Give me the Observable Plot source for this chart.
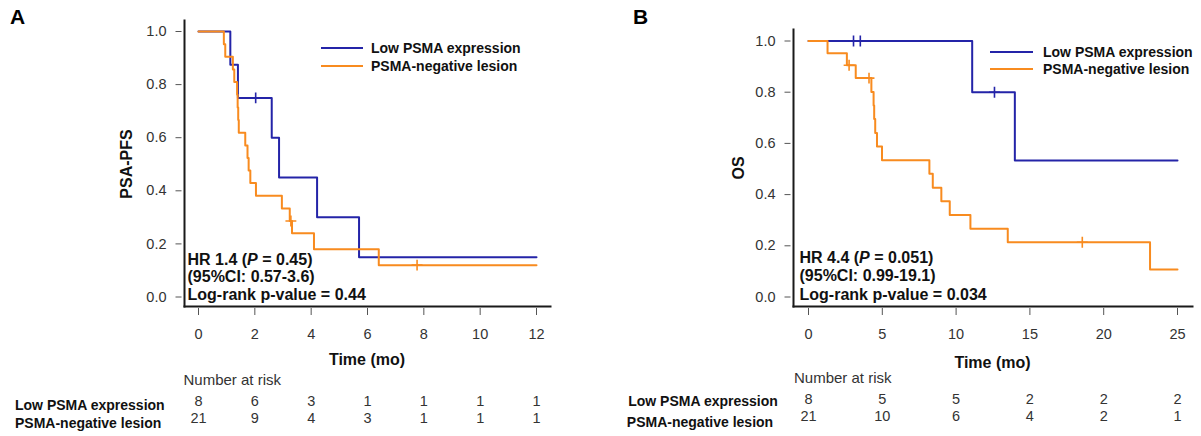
<!DOCTYPE html>
<html><head><meta charset="utf-8">
<script src="https://cdn.jsdelivr.net/npm/d3@7"></script>
<script src="https://cdn.jsdelivr.net/npm/@observablehq/plot@0.6"></script>
<style>
body{margin:0;background:#fff;font-family:"Liberation Sans",Arial,sans-serif;}
#wrap{position:relative;width:1201px;height:436px;overflow:hidden;background:#fff;}
.abs{position:absolute;white-space:nowrap;}
</style></head><body><div id="wrap"></div>
<script>
// ---- data ----
const groups = ["Low PSMA expression", "PSMA-negative lesion"];
const colors = ["#2424a8", "#f88b1f"];
const yTicks = [0, 0.2, 0.4, 0.6, 0.8, 1.0];

// Panel A: PSA-PFS
const xTicksA = [0, 2, 4, 6, 8, 10, 12];
const pfsLowTime = [0, 1.13, 1.40, 2.60, 2.86, 4.21, 5.70, 12];
const pfsLowSurv = [1, 0.875, 0.75, 0.60, 0.45, 0.30, 0.15, 0.15];
const pfsLowCensor = [2.03];
const pfsNegTime = [0, 0.90, 0.95, 1.22, 1.27, 1.37, 1.39, 1.41, 1.43, 1.66, 1.74, 1.78, 1.84, 2.04, 2.96, 3.24, 3.32, 4.10, 6.40, 12];
const pfsNegSurv = [1, 0.952, 0.905, 0.857, 0.810, 0.762, 0.714, 0.667, 0.619, 0.571, 0.524, 0.476, 0.429, 0.381, 0.333, 0.286, 0.24, 0.18, 0.12, 0.12];
const pfsNegCensor = [3.28, 7.76];
const riskLowA = [8, 6, 3, 1, 1, 1, 1];
const riskNegA = [21, 9, 4, 3, 1, 1, 1];

// Panel B: OS
const xTicksB = [0, 5, 10, 15, 20, 25];
const osLowTime = [0, 11.09, 13.98, 25];
const osLowSurv = [1, 0.80, 0.533, 0.533];
const osLowCensor = [3.05, 3.51, 12.6];
const osNegTime = [0, 1.29, 2.60, 3.20, 4.26, 4.41, 4.45, 4.52, 4.64, 4.98, 8.19, 8.42, 9.00, 9.57, 10.97, 13.50, 23.14, 25];
const osNegSurv = [1, 0.952, 0.905, 0.855, 0.801, 0.748, 0.695, 0.641, 0.588, 0.534, 0.481, 0.427, 0.374, 0.320, 0.267, 0.214, 0.107, 0.107];
const osNegCensor = [2.75, 4.10, 18.55];
const riskLowB = [8, 5, 5, 2, 2, 2];
const riskNegB = [21, 10, 6, 4, 2, 1];

// ---- helpers ----
function steps(times, surv, g) { return times.map((t, i) => ({t, s: surv[i], g})); }
function survAt(times, surv, t) { let s = surv[0]; for (let i = 0; i < times.length; i++) if (times[i] <= t) s = surv[i]; return s; }
function censors(cs, times, surv, g) { return cs.map(t => ({t, s: survAt(times, surv, t), g})); }

const wrap = document.getElementById("wrap");
function txt(html, o) {
  const d = document.createElement("div");
  d.className = "abs";
  d.innerHTML = html;
  const size = o.size || 14;
  d.style.fontSize = size + "px";
  d.style.lineHeight = size + "px";
  d.style.fontWeight = o.bold ? "bold" : "normal";
  d.style.color = o.color || (o.bold ? "#111" : "#333");
  d.style.left = o.x + "px";
  d.style.top = (o.cy - size / 2) + "px";
  if (o.align === "center") d.style.transform = "translateX(-50%)";
  if (o.rotate) d.style.transform = "translate(-50%,0) rotate(-90deg)";
  wrap.appendChild(d);
}
function swatch(x1, x2, y, color) {
  const d = document.createElement("div");
  d.className = "abs";
  d.style.left = x1 + "px"; d.style.width = (x2 - x1) + "px";
  d.style.top = (y - 1) + "px"; d.style.height = "2px";
  d.style.background = color;
  wrap.appendChild(d);
}

function panel(cfg) {
  const lines = [...steps(cfg.lowT, cfg.lowS, groups[0]), ...steps(cfg.negT, cfg.negS, groups[1])];
  const cens = [...censors(cfg.lowC, cfg.lowT, cfg.lowS, groups[0]), ...censors(cfg.negC, cfg.negT, cfg.negS, groups[1])];
  const risk0 = cfg.ticks.map((t, i) => ({t, n: cfg.riskLow[i]}));
  const risk1 = cfg.ticks.map((t, i) => ({t, n: cfg.riskNeg[i]}));
  const p = Plot.plot({
    width: cfg.width, height: 436,
    marginLeft: cfg.ml, marginRight: cfg.mr, marginTop: cfg.mt, marginBottom: 130,
    insetLeft: cfg.il, insetRight: cfg.ir, insetTop: cfg.it, insetBottom: 9.5,
    x: {domain: [cfg.ticks[0], cfg.ticks[cfg.ticks.length - 1]]},
    y: {domain: [0, 1]},
    color: {domain: groups, range: colors},
    style: {fontFamily: "Liberation Sans, Arial, sans-serif", fontSize: "14px", color: "#333", background: "transparent", overflow: "visible"},
    marks: [
      Plot.axisX({ticks: cfg.ticks, tickFormat: d => String(d), tickSize: 7, dy: 2, tickPadding: 13, label: null, fontSize: 14.5, stroke: "#555"}),
      Plot.axisY({ticks: yTicks, tickFormat: d3.format(".1f"), tickSize: 6, dx: -2.5, tickPadding: 9.5, label: null, fontSize: 14.5, stroke: "#555"}),
      Plot.frame({anchor: "left", stroke: "#1a1a1a", strokeWidth: 2}),
      Plot.frame({anchor: "bottom", stroke: "#1a1a1a", strokeWidth: 2}),
      Plot.line(lines, {x: "t", y: "s", z: "g", stroke: "g", curve: "step-after", strokeWidth: 2}),
      Plot.dot(cens, {x: "t", y: "s", stroke: "g", symbol: "plus", r: 3.6, strokeWidth: 1.6}),
      Plot.text(risk0, {x: "t", text: "n", frameAnchor: "bottom", dy: cfg.r0, fontSize: 14.5, fill: "#333"}),
      Plot.text(risk1, {x: "t", text: "n", frameAnchor: "bottom", dy: cfg.r1, fontSize: 14.5, fill: "#333"})
    ]
  });
  p.style.position = "absolute";
  p.style.left = cfg.left + "px";
  p.style.top = "0px";
  wrap.appendChild(p);
}

panel({left: 0, width: 600, ml: 184, mr: 50, mt: 20, il: 14, ir: 14, it: 11,
  ticks: xTicksA, lowT: pfsLowTime, lowS: pfsLowSurv, lowC: pfsLowCensor,
  negT: pfsNegTime, negS: pfsNegSurv, negC: pfsNegCensor,
  riskLow: riskLowA, riskNeg: riskNegA, r0: 99, r1: 116.7});
panel({left: 600, width: 601, ml: 193, mr: 9, mt: 29, il: 15, ir: 15, it: 11.5,
  ticks: xTicksB, lowT: osLowTime, lowS: osLowSurv, lowC: osLowCensor,
  negT: osNegTime, negS: osNegSurv, negC: osNegCensor,
  riskLow: riskLowB, riskNeg: riskNegB, r0: 97, r1: 114.5});

// ---- Panel A texts ----
txt("A", {x: 10, cy: 16, size: 21, bold: true, color: "#000"});
txt("PSA-PFS", {x: 127, cy: 164, size: 16, bold: true, rotate: true});
swatch(321, 363, 47.7, colors[0]);
swatch(321, 363, 65.7, colors[1]);
txt(groups[0], {x: 371, cy: 47.7, size: 14, bold: true});
txt(groups[1], {x: 371, cy: 65.7, size: 14, bold: true});
txt("HR 1.4 (<i>P</i> = 0.45)", {x: 187.5, cy: 259.5, size: 16, bold: true});
txt("(95%CI: 0.57-3.6)", {x: 187.5, cy: 277, size: 16, bold: true});
txt("Log-rank p-value = 0.44", {x: 187.5, cy: 295, size: 16, bold: true});
txt("Time (mo)", {x: 367, cy: 360, size: 16, bold: true, align: "center"});
txt("Number at risk", {x: 183.5, cy: 379, size: 15});
txt(groups[0], {x: 15, cy: 405, size: 14, bold: true});
txt(groups[1], {x: 15, cy: 422.7, size: 14, bold: true});

// ---- Panel B texts ----
txt("B", {x: 633, cy: 16, size: 21, bold: true, color: "#000"});
txt("OS", {x: 738.5, cy: 168, size: 16, bold: true, rotate: true});
swatch(990, 1033, 51.7, colors[0]);
swatch(990, 1033, 69, colors[1]);
txt(groups[0], {x: 1043, cy: 51.7, size: 14, bold: true});
txt(groups[1], {x: 1043, cy: 69, size: 14, bold: true});
txt("HR 4.4 (<i>P</i> = 0.051)", {x: 799.5, cy: 257.5, size: 16, bold: true});
txt("(95%CI: 0.99-19.1)", {x: 799.5, cy: 276, size: 16, bold: true});
txt("Log-rank p-value = 0.034", {x: 799.5, cy: 294.5, size: 16, bold: true});
txt("Time (mo)", {x: 992.5, cy: 363, size: 16, bold: true, align: "center"});
txt("Number at risk", {x: 794, cy: 377, size: 15});
txt(groups[0], {x: 703, cy: 401, size: 14, bold: true, align: "center"});
txt(groups[1], {x: 700, cy: 421.5, size: 14, bold: true, align: "center"});
</script></body></html>
